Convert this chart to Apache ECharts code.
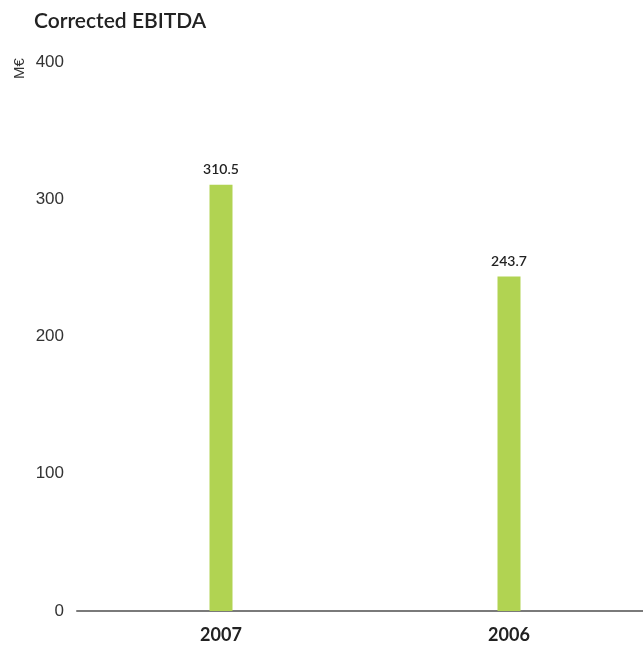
<!DOCTYPE html>
<html>
<head>
<meta charset="utf-8">
<script src="https://cdn.jsdelivr.net/npm/echarts@6/dist/echarts.min.js"></script>
<style>
  html, body { margin: 0; padding: 0; background: #fff; }
  #chart { width: 643px; height: 653px; }
</style>
</head>
<body>
<div id="chart"></div>
<script>
// Corrected EBITDA, million euro
const years = ['2007', '2006'];
const ebitda = [310.5, 243.7];
const yTicks = [0, 100, 200, 300, 400];

const chart = echarts.init(document.getElementById('chart'));

chart.setOption({
  animation: false,
  textStyle: { fontFamily: 'Lato, "Noto Sans", sans-serif' },
  title: {
    text: 'Corrected EBITDA',
    left: 29,
    top: 6,
    textStyle: { fontSize: 21, fontWeight: 600, color: '#222', fontFamily: 'Lato, sans-serif' }
  },
  graphic: [{
    type: 'text',
    x: 12,
    y: 79,
    rotation: Math.PI / 2,
    style: { text: 'M€', fontSize: 15, fill: '#333', fontFamily: '"Liberation Sans", Arial, sans-serif' }
  }],
  // the category band continues a little past the right edge of the page
  grid: { left: 77, width: 576, top: 62, bottom: 42, outerBoundsMode: 'none', containLabel: false },
  xAxis: {
    type: 'category',
    data: years,
    axisLine: { lineStyle: { color: '#7a7a7a', width: 2 } },
    axisTick: { show: false },
    axisLabel: { fontSize: 18, fontWeight: 700, color: '#222', margin: 15 }
  },
  yAxis: {
    type: 'value',
    min: yTicks[0],
    max: yTicks[yTicks.length - 1],
    interval: 100,
    splitLine: { show: false },
    axisLine: { show: false },
    axisTick: { show: false },
    axisLabel: {
      fontSize: 17,
      color: '#333',
      margin: 13,
      fontFamily: '"Liberation Sans", Arial, sans-serif'
    }
  },
  series: [{
    type: 'bar',
    data: ebitda,
    barWidth: 23,
    itemStyle: { color: '#b1d352' },
    label: {
      show: true,
      position: 'top',
      distance: 8,
      fontSize: 14,
      fontWeight: 600,
      color: '#222'
    }
  }]
});
</script>
</body>
</html>
